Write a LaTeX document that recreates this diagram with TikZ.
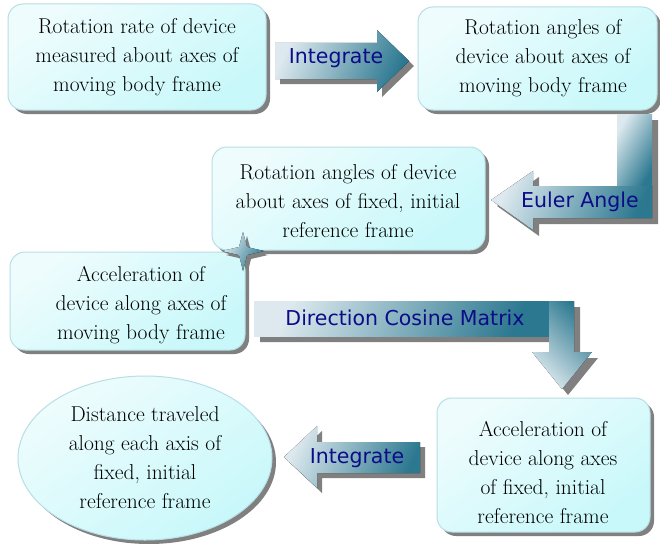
\documentclass[tikz,border=0pt]{standalone}
\usepackage{fontspec}
\newfontfamily\arrowfont{DejaVu Sans}
\usetikzlibrary{shapes.geometric,shadows}
\definecolor{boxA}{HTML}{EEFCFD}
\definecolor{boxB}{HTML}{C8F8FA}
\definecolor{boxline}{HTML}{B8DEE6}
\definecolor{shadecol}{HTML}{808080}
\definecolor{arrA}{HTML}{DDE9EE}
\definecolor{arrB}{HTML}{2C7890}
\definecolor{navytext}{HTML}{0C0C88}
\begin{document}
\begin{tikzpicture}[x=1pt,y=-1pt,
  box/.style={draw=boxline, line width=1pt, rounded corners=15pt,
    top color=boxA, bottom color=boxB, shading angle=35,
    general shadow={fill=shadecol, shadow xshift=4pt, shadow yshift=-4pt}},
  boxtext/.style={align=center, font=\fontsize{21.5}{29}\selectfont, text=black, inner sep=0pt},
  arrtext/.style={font=\arrowfont\fontsize{20.5}{24}\selectfont, text=navytext, inner sep=0pt},
  arrfill/.style={top color=arrA, bottom color=arrB, shading angle=65},
  arrsh/.style={fill=shadecol}
]
\useasboundingbox (0,0) rectangle (660,543);

% boxes
\node[box, minimum width=258pt, minimum height=106pt] (b1) at (137,57) {};
\node[box, minimum width=239pt, minimum height=103pt] (b2) at (537.5,58.5) {};
\node[box, minimum width=235pt, minimum height=98pt] (b4) at (127.5,301) {};
\node[box, minimum width=273pt, minimum height=103pt] (b3) at (348.5,198.5) {};
\node[box, minimum width=213pt, minimum height=134pt] (b6) at (543.5,465) {};
\node[box, ellipse, minimum width=254pt, minimum height=164pt] (b5) at (145,458) {};

\node[boxtext] (t1) at (b1.center) {Rotation rate of device\\measured about axes of\\moving body frame};
\node[boxtext] (t2) at (543,58) {Rotation angles of\\device about axes of\\moving body frame};
\node[boxtext] (t3) at (348,201) {Rotation angles of device\\about axes of fixed, initial\\reference frame};
\node[boxtext] (t4) at (141,305) {Acceleration of\\device along axes of\\moving body frame};
\node[boxtext] (t5) at (b5.center) {Distance traveled\\along each axis of\\fixed, initial\\reference frame};
\node[boxtext] (t6) at (543,472) {Acceleration of\\device along axes\\of fixed, initial\\reference frame};

% arrow 1: Integrate (right)
\fill[arrsh, shift={(5,5)}] (275,43) -- (377,43) -- (377,30) -- (409,61) -- (377,92) -- (377,79) -- (275,79) -- cycle;
\fill[arrfill] (275,43) -- (377,43) -- (377,30) -- (409,61) -- (377,92) -- (377,79) -- (275,79) -- cycle;
\node[arrtext] (a1) at (336,58) {Integrate};

% arrow 2: Euler Angle (down then left)
\fill[arrsh, shift={(6,6)}] (617,114) -- (652,114) -- (652,218) -- (533,218) -- (533,230) -- (491,200) -- (533,171) -- (533,186) -- (617,186) -- cycle;
\fill[top color=arrA, bottom color=arrB, shading angle=60] (617,114) -- (652,114) -- (652,187) -- (617,187) -- cycle;
\fill[arrfill] (652,186) -- (652,218) -- (533,218) -- (533,230) -- (491,200) -- (533,171) -- (533,186) -- cycle;
\node[arrtext] (a2) at (580,202) {Euler Angle};

% arrow 3: Direction Cosine Matrix (right then down)
\fill[arrsh, shift={(6,6)}] (254,301) -- (574,301) -- (574,352) -- (592,352) -- (562,389) -- (532,352) -- (549,352) -- (549,336) -- (254,336) -- cycle;
\fill[arrfill] (254,301) -- (549,301) -- (549,336) -- (254,336) -- cycle;
\fill[top color=arrB, bottom color=arrA, shading angle=-45] (549,301) -- (574,301) -- (574,352) -- (592,352) -- (562,389) -- (532,352) -- (549,352) -- cycle;
\node[arrtext] (a3) at (405,318) {Direction Cosine Matrix};

% arrow 4: Integrate (left)
\fill[arrsh, shift={(5,5)}] (420,442) -- (317,442) -- (317,426) -- (284,457) -- (317,488) -- (317,473) -- (420,473) -- cycle;
\fill[arrfill] (420,442) -- (317,442) -- (317,426) -- (284,457) -- (317,488) -- (317,473) -- (420,473) -- cycle;
\node[arrtext] (a4) at (357,458) {Integrate};

% star junction
\coordinate (st) at (243,251);
\fill[shadecol, shift={(4,4)}] (243,232) -- (247,247) -- (264,251) -- (247,255) -- (243,271) -- (239,255) -- (222,251) -- (239,247) -- cycle;
\fill[top color=arrA, bottom color=arrB, shading angle=60] (243,232) -- (247,247) -- (264,251) -- (247,255) -- (243,271) -- (239,255) -- (222,251) -- (239,247) -- cycle;
\end{tikzpicture}
\end{document}
